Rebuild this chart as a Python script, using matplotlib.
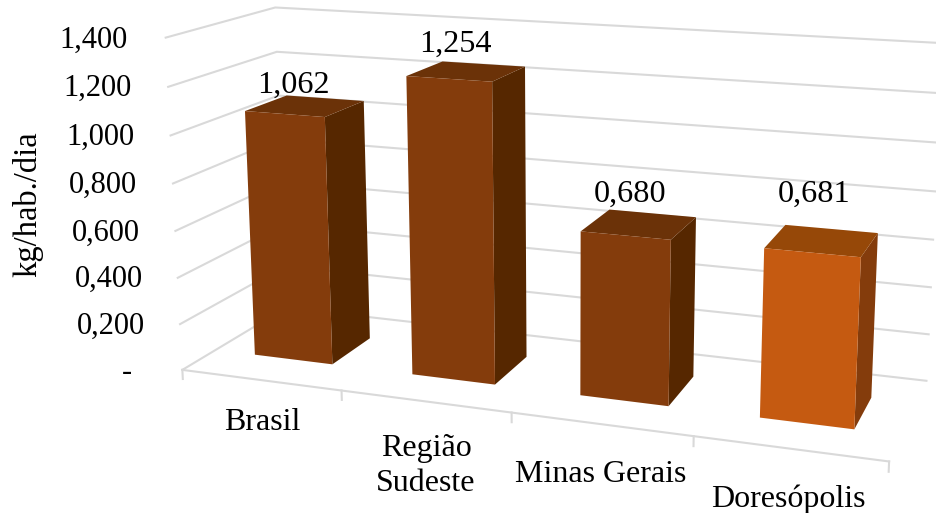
import numpy as np
import matplotlib
matplotlib.use("Agg")
import matplotlib.pyplot as plt

plt.rcParams['font.family'] = ['Liberation Serif', 'DejaVu Serif']

# Donnees
categories = ['Brasil', 'Região\nSudeste', 'Minas Gerais', 'Doresópolis']
values = [1.062, 1.254, 0.680, 0.681]
value_labels = ['1,062', '1,254', '0,680', '0,681']
y_ticks = [0, 0.2, 0.4, 0.6, 0.8, 1.0, 1.2, 1.4]
y_tick_labels = ['-', '0,200', '0,400', '0,600', '0,800', '1,000', '1,200', '1,400']

# Positions des textes (pixels)
value_label_xy = [(293, 85), (455, 44), (630, 194), (814, 194)]
category_label_xy = [(262, 422), (426, 466), (601, 475), (788, 499)]
y_tick_label_xy = [(132, 372), (145.5, 326), (143, 279), (140, 233), (137.5, 185), (135, 137), (132, 88), (128, 40)]

# Calage de la perspective : (categorie, valeur, profondeur) -> pixel
frame_3d = np.array([
    [0, 0, 0], [1, 0, 0], [2, 0, 0], [3, 0, 0], [4, 0, 0],
    [0, 0, 1], [4, 0, 1], [0, 1.4, 1], [4, 1.4, 1],
    [0, 1.4, 0], [0, 1.2, 0], [0, 1.2, 1], [4, 1.2, 1],
])
frame_px = np.array([
    [185, 369], [342, 391], [512, 414], [693, 437], [889, 460],
    [283, 307], [927, 381], [277, 8], [941, 43],
    [164, 37], [167, 87], [278, 52], [941, 93],
], dtype=float)


def fit_camera(pts, px):
    rows = []
    for (X, Y, Z), (u, v) in zip(pts, px):
        rows.append([X, Y, Z, 1, 0, 0, 0, 0, -u * X, -u * Y, -u * Z, -u])
        rows.append([0, 0, 0, 0, X, Y, Z, 1, -v * X, -v * Y, -v * Z, -v])
    _, _, vt = np.linalg.svd(np.array(rows, dtype=float))
    return vt[-1].reshape(3, 4)


P = fit_camera(frame_3d, frame_px)


def proj(X, Y, Z):
    h = P @ np.array([X, Y, Z, 1.0])
    return h[0] / h[2], h[1] / h[2]


fig = plt.figure(figsize=(9.37, 5.13), dpi=100)
ax = fig.add_axes([0, 0, 1, 1])
ax.set_xlim(0, 937)
ax.set_ylim(513, 0)
ax.axis('off')

grid_color = '#D9D9D9'

# Murs : grille
for t in y_ticks:
    pts = [proj(0, t, 0), proj(0, t, 1), proj(4, t, 1)]
    ax.plot(*zip(*pts), color=grid_color, lw=1.5, solid_joinstyle='miter', zorder=1)

# Sol : ligne avant et graduations
ax.plot(*zip(proj(0, 0, 0), proj(4, 0, 0)), color=grid_color, lw=1.5, zorder=1)
for i in range(5):
    ax.plot(*zip(proj(i, 0, 0), proj(i, -0.04, 0)), color=grid_color, lw=1.5, zorder=1)

# Barres
half_width = 0.25
center_shift = 0.508
z_front, z_back = 0.30, 0.70
front_colors = ['#843C0C', '#843C0C', '#843C0C', '#C55A11']
side_colors = ['#562700', '#562700', '#562700', '#843C0C']
top_colors = ['#6B3208', '#6B3208', '#6B3208', '#964808']

for i, val in enumerate(values):
    x0, x1 = i + center_shift - half_width, i + center_shift + half_width
    front = [proj(x0, 0, z_front), proj(x1, 0, z_front), proj(x1, val, z_front), proj(x0, val, z_front)]
    side = [proj(x1, 0, z_front), proj(x1, 0, z_back), proj(x1, val, z_back), proj(x1, val, z_front)]
    top = [proj(x0, val, z_front), proj(x1, val, z_front), proj(x1, val, z_back), proj(x0, val, z_back)]
    ax.fill(*zip(*side), color=side_colors[i], lw=0, zorder=3)
    ax.fill(*zip(*top), color=top_colors[i], lw=0, zorder=3)
    ax.fill(*zip(*front), color=front_colors[i], lw=0, zorder=3)

# Textes
for lab, (x, y) in zip(value_labels, value_label_xy):
    ax.text(x, y, lab, ha='center', va='center', fontsize=23.2, color='black')
for lab, (x, y) in zip(categories, category_label_xy):
    ax.text(x, y, lab, ha='center', va='center', fontsize=23, color='black', linespacing=1.23)
for lab, (x, y) in zip(y_tick_labels, y_tick_label_xy):
    ax.text(x, y, lab, ha='right', va='center', fontsize=22, color='black')
ax.text(28, 204.5, 'kg/hab./dia', rotation=90, ha='center', va='center', fontsize=23.5, color='black')

fig.savefig('out.png', dpi=100)
